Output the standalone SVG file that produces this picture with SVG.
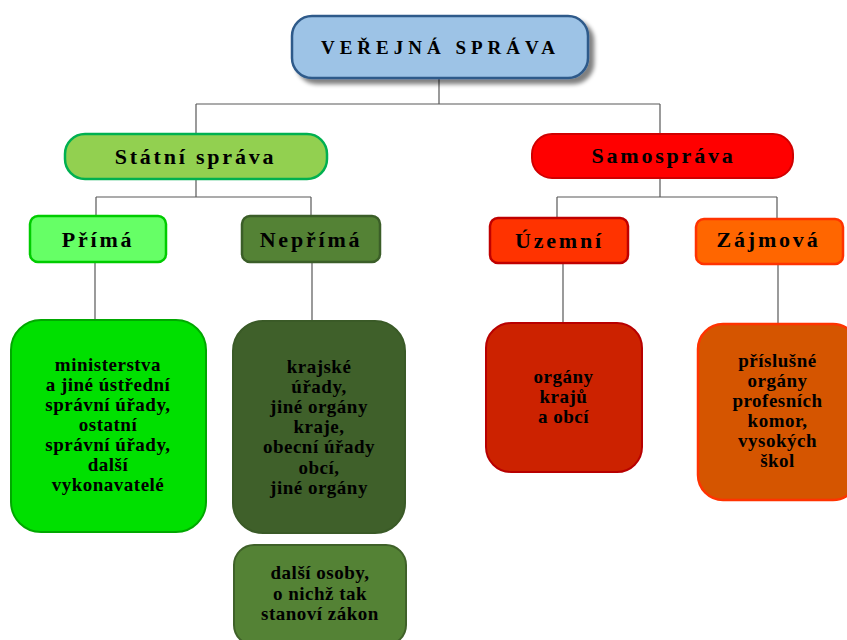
<svg xmlns="http://www.w3.org/2000/svg" width="847" height="640" viewBox="0 0 847 640">
<defs>
<filter id="shadow" x="-10%" y="-20%" width="130%" height="160%">
<feGaussianBlur in="SourceAlpha" stdDeviation="2"/>
<feOffset dx="5" dy="5" result="b"/>
<feComponentTransfer><feFuncA type="linear" slope="0.5"/></feComponentTransfer>
<feMerge><feMergeNode/><feMergeNode in="SourceGraphic"/></feMerge>
</filter>
</defs>
<style>
text{font-family:"Liberation Serif","Times New Roman",serif;font-weight:bold;fill:#000;text-anchor:middle}
.title{font-size:19px;letter-spacing:5px}
.hd{font-size:22px;letter-spacing:2.8px}
.bd{font-size:19px;letter-spacing:0.5px}
.conn{fill:none;stroke:#595959;stroke-width:1.2}
</style>
<rect width="847" height="640" fill="#fff"/>
<g id="connectors">
<path class="conn" d="M439 78V104M196 104H660M196 104V134M660 104V134"/>
<path class="conn" d="M196 179V197M96 197H311M96 197V216M311 197V216"/>
<path class="conn" d="M660 178V197M557 197H777M557 197V218M777 197V219"/>
<path class="conn" d="M95 262V320M312 262V321M563 263V323M778 264V324"/>
</g>
<g id="verejna-sprava">
<rect x="292" y="16" width="296" height="62" rx="20" fill="#9DC3E6" stroke="#2F5A8A" stroke-width="2.5" filter="url(#shadow)"/>
<text class="title" x="440.5" y="54">VEŘEJNÁ SPRÁVA</text>
</g>
<g id="statni-sprava">
<rect x="65" y="134" width="262" height="45" rx="20" fill="#92D050" stroke="#00B050" stroke-width="2.5"/>
<text class="hd" x="195.5" y="164">Státní správa</text>
</g>
<g id="samosprava">
<rect x="532" y="134" width="261" height="44" rx="20" fill="#FF0000" stroke="#D00000" stroke-width="2"/>
<text class="hd" x="663.5" y="163">Samospráva</text>
</g>
<g id="prima">
<rect x="30" y="216" width="136" height="46" rx="8" fill="#66FF66" stroke="#00CC00" stroke-width="2.5"/>
<text class="hd" x="98" y="247">Přímá</text>
</g>
<g id="neprima">
<rect x="242" y="216" width="138" height="46" rx="8" fill="#548235" stroke="#3B5E28" stroke-width="2.5"/>
<text class="hd" x="311" y="247">Nepřímá</text>
</g>
<g id="uzemni">
<rect x="490" y="218" width="138" height="45" rx="8" fill="#FF3300" stroke="#C00000" stroke-width="2.5"/>
<text class="hd" x="559.5" y="248">Územní</text>
</g>
<g id="zajmova">
<rect x="696" y="219" width="147" height="45" rx="8" fill="#FF6600" stroke="#FF3300" stroke-width="2.5"/>
<text class="hd" x="768.5" y="247">Zájmová</text>
</g>
<g id="ministerstva">
<rect x="11" y="320" width="195" height="212" rx="30" fill="#00E000" stroke="#00A800" stroke-width="2"/>
<text class="bd" x="108" y="371">ministerstva</text>
<text class="bd" x="108" y="391">a jiné ústřední</text>
<text class="bd" x="108" y="411">správní úřady,</text>
<text class="bd" x="108" y="431">ostatní</text>
<text class="bd" x="108" y="451">správní úřady,</text>
<text class="bd" x="108" y="471">další</text>
<text class="bd" x="108" y="491">vykonavatelé</text>
</g>
<g id="krajske-urady">
<rect x="233" y="321" width="172" height="212" rx="30" fill="#3F602A" stroke="#3A5A27" stroke-width="2"/>
<text class="bd" x="319" y="373">krajské</text>
<text class="bd" x="319" y="393">úřady,</text>
<text class="bd" x="319" y="413">jiné orgány</text>
<text class="bd" x="319" y="433">kraje,</text>
<text class="bd" x="319" y="453">obecní úřady</text>
<text class="bd" x="319" y="474">obcí,</text>
<text class="bd" x="319" y="494">jiné orgány</text>
</g>
<g id="dalsi-osoby">
<rect x="234" y="545" width="172" height="100" rx="20" fill="#548235" stroke="#3F6129" stroke-width="2"/>
<text class="bd" x="320" y="579">další osoby,</text>
<text class="bd" x="320" y="600">o nichž tak</text>
<text class="bd" x="320" y="620">stanoví zákon</text>
</g>
<g id="organy-kraju">
<rect x="486" y="323" width="156" height="149" rx="25" fill="#CC2200" stroke="#B80000" stroke-width="2"/>
<text class="bd" x="563.5" y="383">orgány</text>
<text class="bd" x="563.5" y="403">krajů</text>
<text class="bd" x="563.5" y="423">a obcí</text>
</g>
<g id="prislusne-organy">
<rect x="698" y="324" width="160" height="176" rx="25" fill="#D55500" stroke="#FF3300" stroke-width="2.5"/>
<text class="bd" x="777.5" y="367">příslušné</text>
<text class="bd" x="777.5" y="387">orgány</text>
<text class="bd" x="777.5" y="407">profesních</text>
<text class="bd" x="777.5" y="427">komor,</text>
<text class="bd" x="777.5" y="447">vysokých</text>
<text class="bd" x="777.5" y="467">škol</text>
</g>
</svg>
